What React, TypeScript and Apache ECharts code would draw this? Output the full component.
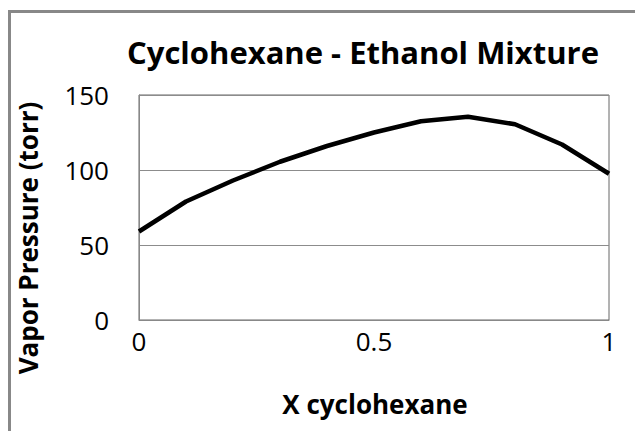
import React, { useEffect, useRef } from "react";
import * as echarts from "echarts";

const xValues = [0, 0.1, 0.2, 0.3, 0.4, 0.5, 0.6, 0.7, 0.8, 0.9, 1.0];
const vaporPressure = [59, 79, 93, 105.5, 116, 125, 132.5, 135.5, 130.5, 117, 97.5];
const titleText = "Cyclohexane - Ethanol Mixture";
const xAxisTitle = "X cyclohexane";
const yAxisTitle = "Vapor Pressure (torr)";

const FONT = "'Open Sans', 'Noto Sans', sans-serif";

export default function App() {
  const ref = useRef<HTMLDivElement>(null);
  useEffect(() => {
    if (!ref.current) return;
    const chart = echarts.init(ref.current, undefined, { renderer: "svg" });
    chart.setOption({
      animation: false,
      backgroundColor: "#fff",
      grid: {
        left: 139,
        top: 95,
        right: 26,
        bottom: 111,
        show: true,
        borderColor: "#666",
        borderWidth: 1,
        backgroundColor: "transparent",
      },
      xAxis: {
        type: "value",
        min: 0,
        max: 1,
        interval: 0.5,
        axisLine: { show: true, lineStyle: { color: "#888", width: 1 } },
        axisTick: { show: false },
        splitLine: { show: false },
        axisLabel: {
          fontFamily: FONT,
          fontSize: 26,
          color: "#000",
          margin: 8,
          formatter: (v: number) => String(v),
        },
      },
      yAxis: {
        type: "value",
        min: 0,
        max: 150,
        interval: 50,
        axisLine: { show: true, lineStyle: { color: "#888", width: 1 } },
        axisTick: { show: false },
        splitLine: { show: true, lineStyle: { color: "#8c8c8c", width: 1 } },
        axisLabel: { fontFamily: FONT, fontSize: 26, color: "#000", margin: 30 },
      },
      series: [
        {
          type: "line",
          data: xValues.map((x, i) => [x, vaporPressure[i]]),
          symbol: "none",
          lineStyle: { color: "#000", width: 4.5 },
        },
      ],
      graphic: [
        {
          type: "rect",
          shape: { x: 9.5, y: 11.5, width: 700, height: 500 },
          style: { fill: "none", stroke: "#888", lineWidth: 3 },
          silent: true,
        },
        {
          type: "text",
          x: 363,
          y: 52,
          style: {
            text: titleText,
            align: "center",
            verticalAlign: "middle",
            fontFamily: FONT,
            fontSize: 31,
            fontWeight: "bold",
            fill: "#000",
          },
        },
        {
          type: "text",
          x: 375,
          y: 404,
          style: {
            text: xAxisTitle,
            align: "center",
            verticalAlign: "middle",
            fontFamily: FONT,
            fontSize: 26,
            fontWeight: "bold",
            fill: "#000",
          },
        },
        {
          type: "text",
          x: 28,
          y: 238,
          rotation: Math.PI / 2,
          style: {
            text: yAxisTitle,
            align: "center",
            verticalAlign: "middle",
            fontFamily: FONT,
            fontSize: 26,
            fontWeight: "bold",
            fill: "#000",
          },
        },
      ],
    });
    return () => chart.dispose();
  }, []);
  return (
    <div
      ref={ref}
      style={{ position: "fixed", left: 0, top: 0, width: 635, height: 431 }}
    />
  );
}
